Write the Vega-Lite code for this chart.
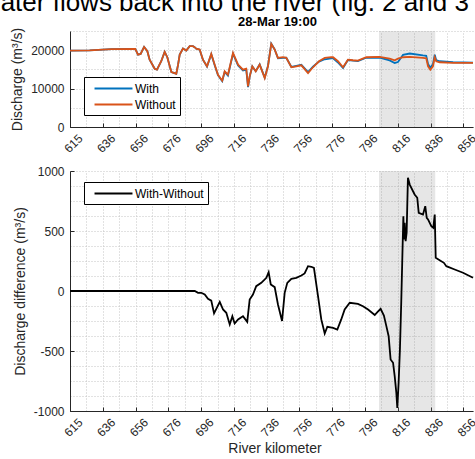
{
  "$schema": "https://vega.github.io/schema/vega-lite/v6.json",
  "padding": {"top": -10, "left": 0, "right": 0, "bottom": 0},
  "title": {"text": "ater flows back into the river (fig. 2 and 3", "fontSize": 26, "font": "Liberation Sans", "fontWeight": "normal", "anchor": "start", "frame": "bounds", "color": "#000000", "offset": 0, "dx": -10},
  "config": {
    "font": "Liberation Sans",
    "view": {"stroke": null},
    "axis": {
      "domainColor": "#262626", "domainWidth": 1,
      "ticks": false,
      "gridColor": "#c4c4c4", "gridDash": [1, 2], "gridWidth": 1,
      "labelFont": "Liberation Sans", "labelFontSize": 12, "labelColor": "#262626",
      "titleFont": "Liberation Sans", "titleFontSize": 14, "titleFontWeight": "normal", "titleColor": "#262626"
    },
    "legend": {
      "labelFont": "Liberation Sans", "labelFontSize": 12, "labelColor": "#000000",
      "strokeColor": "#000000", "fillColor": "#ffffff", "padding": 4,
      "symbolType": "M-3,0H3", "symbolSize": 160, "symbolStrokeWidth": 2, "symbolOffset": 18,
      "rowPadding": 2, "labelOffset": 14
    }
  },
  "datasets": {
    "shade": [{"start": 804.5, "end": 838.9}],
    "flows": [
      {"km": 615.5, "value": 19900, "series": "With"}, {"km": 627.5, "value": 19950, "series": "With"}, {"km": 640.8, "value": 20260, "series": "With"}, {"km": 655.4, "value": 20340, "series": "With"}, {"km": 657.1, "value": 18850, "series": "With"}, {"km": 658.7, "value": 19030, "series": "With"}, {"km": 660.8, "value": 20870, "series": "With"}, {"km": 662.8, "value": 19740, "series": "With"}, {"km": 664.2, "value": 17540, "series": "With"}, {"km": 667.3, "value": 15180, "series": "With"}, {"km": 668.7, "value": 14920, "series": "With"}, {"km": 671.3, "value": 17120, "series": "With"}, {"km": 673.4, "value": 19560, "series": "With"}, {"km": 675.0, "value": 18170, "series": "With"}, {"km": 677.5, "value": 14320, "series": "With"}, {"km": 680.5, "value": 13880, "series": "With"}, {"km": 681.6, "value": 16230, "series": "With"}, {"km": 682.6, "value": 18850, "series": "With"}, {"km": 684.6, "value": 20420, "series": "With"}, {"km": 686.6, "value": 19900, "series": "With"}, {"km": 688.7, "value": 21050, "series": "With"}, {"km": 690.7, "value": 21050, "series": "With"}, {"km": 691.7, "value": 20790, "series": "With"}, {"km": 692.7, "value": 20410, "series": "With"}, {"km": 694.8, "value": 20145, "series": "With"}, {"km": 696.8, "value": 17515, "series": "With"}, {"km": 699.3, "value": 15750, "series": "With"}, {"km": 701.9, "value": 18950, "series": "With"}, {"km": 704.0, "value": 16060, "series": "With"}, {"km": 706.0, "value": 13490, "series": "With"}, {"km": 708.6, "value": 11910, "series": "With"}, {"km": 710.1, "value": 14335, "series": "With"}, {"km": 712.1, "value": 13390, "series": "With"}, {"km": 715.2, "value": 19060, "series": "With"}, {"km": 718.3, "value": 15990, "series": "With"}, {"km": 721.3, "value": 14710, "series": "With"}, {"km": 723.3, "value": 14930, "series": "With"}, {"km": 724.4, "value": 10400, "series": "With"}, {"km": 725.4, "value": 13120, "series": "With"}, {"km": 727.0, "value": 15780, "series": "With"}, {"km": 729.1, "value": 14540, "series": "With"}, {"km": 731.5, "value": 16290, "series": "With"}, {"km": 734.6, "value": 12850, "series": "With"}, {"km": 736.6, "value": 15950, "series": "With"}, {"km": 738.6, "value": 21700, "series": "With"}, {"km": 740.7, "value": 20190, "series": "With"}, {"km": 742.7, "value": 17880, "series": "With"}, {"km": 745.8, "value": 18020, "series": "With"}, {"km": 747.8, "value": 18030, "series": "With"}, {"km": 750.9, "value": 15650, "series": "With"}, {"km": 753.9, "value": 15920, "series": "With"}, {"km": 757.0, "value": 16200, "series": "With"}, {"km": 761.1, "value": 14270, "series": "With"}, {"km": 764.1, "value": 15745, "series": "With"}, {"km": 767.8, "value": 17040, "series": "With"}, {"km": 771.3, "value": 17640, "series": "With"}, {"km": 775.3, "value": 17865, "series": "With"}, {"km": 776.4, "value": 17860, "series": "With"}, {"km": 779.4, "value": 16810, "series": "With"}, {"km": 782.5, "value": 15350, "series": "With"}, {"km": 785.5, "value": 17430, "series": "With"}, {"km": 788.6, "value": 17280, "series": "With"}, {"km": 791.6, "value": 17170, "series": "With"}, {"km": 796.7, "value": 18025, "series": "With"}, {"km": 804.9, "value": 18095, "series": "With"}, {"km": 811.0, "value": 17330, "series": "With"}, {"km": 814.1, "value": 16670, "series": "With"}, {"km": 816.1, "value": 16920, "series": "With"}, {"km": 819.2, "value": 18770, "series": "With"}, {"km": 823.3, "value": 19140, "series": "With"}, {"km": 831.4, "value": 18630, "series": "With"}, {"km": 833.4, "value": 18550, "series": "With"}, {"km": 834.5, "value": 16406, "series": "With"}, {"km": 835.9, "value": 15460, "series": "With"}, {"km": 837.5, "value": 16340, "series": "With"}, {"km": 838.6, "value": 18807, "series": "With"}, {"km": 839.5, "value": 17390, "series": "With"}, {"km": 841.6, "value": 17117, "series": "With"}, {"km": 849.8, "value": 16865, "series": "With"}, {"km": 862.0, "value": 16790, "series": "With"},
      {"km": 615.5, "value": 19900, "series": "Without"}, {"km": 627.5, "value": 19950, "series": "Without"}, {"km": 640.8, "value": 20260, "series": "Without"}, {"km": 655.4, "value": 20340, "series": "Without"}, {"km": 657.1, "value": 18850, "series": "Without"}, {"km": 658.7, "value": 19030, "series": "Without"}, {"km": 660.8, "value": 20870, "series": "Without"}, {"km": 662.8, "value": 19740, "series": "Without"}, {"km": 664.2, "value": 17540, "series": "Without"}, {"km": 667.3, "value": 15180, "series": "Without"}, {"km": 668.7, "value": 14920, "series": "Without"}, {"km": 671.3, "value": 17120, "series": "Without"}, {"km": 673.4, "value": 19560, "series": "Without"}, {"km": 675.0, "value": 18170, "series": "Without"}, {"km": 677.5, "value": 14320, "series": "Without"}, {"km": 680.5, "value": 13880, "series": "Without"}, {"km": 681.6, "value": 16230, "series": "Without"}, {"km": 682.6, "value": 18850, "series": "Without"}, {"km": 684.6, "value": 20420, "series": "Without"}, {"km": 686.6, "value": 19900, "series": "Without"}, {"km": 688.7, "value": 21050, "series": "Without"}, {"km": 690.7, "value": 21050, "series": "Without"}, {"km": 691.7, "value": 20790, "series": "Without"}, {"km": 692.7, "value": 20420, "series": "Without"}, {"km": 694.8, "value": 20160, "series": "Without"}, {"km": 696.8, "value": 17540, "series": "Without"}, {"km": 699.3, "value": 15810, "series": "Without"}, {"km": 701.9, "value": 19030, "series": "Without"}, {"km": 704.0, "value": 16230, "series": "Without"}, {"km": 706.0, "value": 13610, "series": "Without"}, {"km": 708.6, "value": 12040, "series": "Without"}, {"km": 710.1, "value": 14500, "series": "Without"}, {"km": 712.1, "value": 13610, "series": "Without"}, {"km": 715.2, "value": 19290, "series": "Without"}, {"km": 718.3, "value": 16230, "series": "Without"}, {"km": 721.3, "value": 14920, "series": "Without"}, {"km": 723.3, "value": 15180, "series": "Without"}, {"km": 724.4, "value": 10580, "series": "Without"}, {"km": 725.4, "value": 13190, "series": "Without"}, {"km": 727.0, "value": 15810, "series": "Without"}, {"km": 729.1, "value": 14500, "series": "Without"}, {"km": 731.5, "value": 16230, "series": "Without"}, {"km": 734.6, "value": 12750, "series": "Without"}, {"km": 736.6, "value": 15810, "series": "Without"}, {"km": 738.6, "value": 21650, "series": "Without"}, {"km": 740.7, "value": 20160, "series": "Without"}, {"km": 742.7, "value": 17990, "series": "Without"}, {"km": 745.8, "value": 18170, "series": "Without"}, {"km": 747.8, "value": 17990, "series": "Without"}, {"km": 750.9, "value": 15550, "series": "Without"}, {"km": 753.9, "value": 15810, "series": "Without"}, {"km": 757.0, "value": 16070, "series": "Without"}, {"km": 761.1, "value": 14060, "series": "Without"}, {"km": 764.1, "value": 15550, "series": "Without"}, {"km": 767.8, "value": 17120, "series": "Without"}, {"km": 771.3, "value": 17990, "series": "Without"}, {"km": 775.3, "value": 18170, "series": "Without"}, {"km": 776.4, "value": 18170, "series": "Without"}, {"km": 779.4, "value": 17120, "series": "Without"}, {"km": 782.5, "value": 15550, "series": "Without"}, {"km": 785.5, "value": 17540, "series": "Without"}, {"km": 788.6, "value": 17380, "series": "Without"}, {"km": 791.6, "value": 17280, "series": "Without"}, {"km": 796.7, "value": 18170, "series": "Without"}, {"km": 804.9, "value": 18250, "series": "Without"}, {"km": 811.0, "value": 17800, "series": "Without"}, {"km": 814.1, "value": 17380, "series": "Without"}, {"km": 816.1, "value": 17800, "series": "Without"}, {"km": 819.2, "value": 18170, "series": "Without"}, {"km": 823.3, "value": 18250, "series": "Without"}, {"km": 831.4, "value": 17990, "series": "Without"}, {"km": 833.4, "value": 17900, "series": "Without"}, {"km": 834.5, "value": 15810, "series": "Without"}, {"km": 835.9, "value": 14920, "series": "Without"}, {"km": 837.5, "value": 15810, "series": "Without"}, {"km": 838.6, "value": 18170, "series": "Without"}, {"km": 839.5, "value": 17120, "series": "Without"}, {"km": 841.6, "value": 16860, "series": "Without"}, {"km": 849.8, "value": 16680, "series": "Without"}, {"km": 862.0, "value": 16680, "series": "Without"}
    ],
    "diff": [
      {"km": 615.5, "value": 0}, {"km": 691.8, "value": 0}, {"km": 693.8, "value": -15}, {"km": 695.8, "value": -15}, {"km": 697.9, "value": -29}, {"km": 699.9, "value": -65}, {"km": 701.9, "value": -80}, {"km": 703.6, "value": -186}, {"km": 707.1, "value": -90}, {"km": 709.1, "value": -154}, {"km": 711.1, "value": -182}, {"km": 713.2, "value": -279}, {"km": 714.8, "value": -210}, {"km": 716.2, "value": -271}, {"km": 718.3, "value": -237}, {"km": 721.3, "value": -210}, {"km": 723.9, "value": -257}, {"km": 725.4, "value": -71}, {"km": 727.4, "value": -29}, {"km": 729.4, "value": 40}, {"km": 732.5, "value": 68}, {"km": 735.6, "value": 110}, {"km": 737.0, "value": 157}, {"km": 738.3, "value": 54}, {"km": 740.7, "value": 32}, {"km": 742.7, "value": -112}, {"km": 745.2, "value": -250}, {"km": 746.8, "value": -15}, {"km": 748.4, "value": 68}, {"km": 750.9, "value": 102}, {"km": 753.9, "value": 110}, {"km": 757.0, "value": 129}, {"km": 759.0, "value": 146}, {"km": 761.1, "value": 207}, {"km": 763.1, "value": 202}, {"km": 764.7, "value": 193}, {"km": 767.2, "value": -43}, {"km": 769.2, "value": -237}, {"km": 771.3, "value": -354}, {"km": 772.9, "value": -298}, {"km": 776.4, "value": -307}, {"km": 779.0, "value": -321}, {"km": 781.4, "value": -237}, {"km": 783.5, "value": -154}, {"km": 786.6, "value": -98}, {"km": 791.6, "value": -107}, {"km": 794.7, "value": -127}, {"km": 797.8, "value": -155}, {"km": 801.9, "value": -200}, {"km": 803.5, "value": -177}, {"km": 805.5, "value": -148}, {"km": 807.5, "value": -205}, {"km": 809.0, "value": -293}, {"km": 810.4, "value": -377}, {"km": 811.6, "value": -571}, {"km": 813.1, "value": -598}, {"km": 814.1, "value": -710}, {"km": 815.1, "value": -848}, {"km": 815.7, "value": -975}, {"km": 816.5, "value": -765}, {"km": 817.3, "value": -488}, {"km": 818.1, "value": -98}, {"km": 818.7, "value": 235}, {"km": 819.4, "value": 623}, {"km": 819.8, "value": 429}, {"km": 820.2, "value": 568}, {"km": 820.8, "value": 415}, {"km": 821.4, "value": 485}, {"km": 822.2, "value": 943}, {"km": 823.3, "value": 887}, {"km": 826.3, "value": 804}, {"km": 827.9, "value": 777}, {"km": 828.8, "value": 652}, {"km": 831.4, "value": 637}, {"km": 832.8, "value": 707}, {"km": 833.7, "value": 610}, {"km": 834.5, "value": 596}, {"km": 836.5, "value": 540}, {"km": 837.7, "value": 527}, {"km": 838.6, "value": 637}, {"km": 839.2, "value": 277}, {"km": 841.6, "value": 257}, {"km": 844.2, "value": 235}, {"km": 845.7, "value": 207}, {"km": 850.8, "value": 179}, {"km": 855.9, "value": 152}, {"km": 862.0, "value": 110}
    ]
  },
  "spacing": 10,
  "vconcat": [
    {
      "width": 403,
      "height": 96,
      "title": {"text": "28-Mar 19:00", "fontSize": 13, "fontWeight": "bold", "anchor": "middle", "offset": -4, "dx": 6, "color": "#000000"},
      "resolve": {"axis": {"x": "independent"}},
      "layer": [
        {
          "data": {"name": "shade"},
          "mark": {"type": "rect", "color": "#808080", "opacity": 0.2},
          "encoding": {
            "x": {"field": "start", "type": "quantitative", "scale": {"domain": [615.49, 862], "nice": false, "zero": false},
              "axis": {"orient": "bottom", "title": null, "labels": false, "domain": false, "ticks": false, "grid": true,
                "values": [615.49, 625.515, 635.54, 645.565, 655.59, 665.615, 675.64, 685.665, 695.69, 705.715, 715.74, 725.765, 735.79, 745.815, 755.84, 765.865, 775.89, 785.915, 795.94, 805.965, 815.99, 826.015, 836.04, 846.065, 856.09]}},
            "x2": {"field": "end"}
          }
        },
        {
          "data": {"name": "flows"},
          "mark": {"type": "line", "strokeWidth": 1.8},
          "encoding": {
            "x": {"field": "km", "type": "quantitative", "scale": {"domain": [615.49, 862], "nice": false, "zero": false},
              "axis": {"orient": "bottom", "title": null, "grid": false, "values": [615.49, 635.54, 655.59, 675.64, 695.69, 715.74, 735.79, 755.84, 775.89, 795.94, 815.99, 836.04, 856.09],
                "format": ".0f", "ticks": true, "tickSize": -4, "tickColor": "#262626",
                "labelAngle": -45, "labelAlign": "center", "labelBaseline": "middle", "labelOffset": 3, "labelPadding": 20, "labelOverlap": false, "labelFlush": false}},
            "y": {"field": "value", "type": "quantitative", "scale": {"domain": [0, 25000], "nice": false},
              "axis": {"title": "Discharge (m³/s)", "values": [0, 5000, 10000, 15000, 20000, 25000],
                "ticks": true, "tickSize": -4, "tickColor": "#262626",
                "tickOpacity": {"condition": {"test": "datum.value % 10000 == 0", "value": 1}, "value": 0},
                "labelExpr": "datum.value % 10000 == 0 ? toString(datum.value) : ''", "labelPadding": 10, "titlePadding": 6, "labelOverlap": false}},
            "color": {"field": "series", "type": "nominal", "scale": {"domain": ["With", "Without"], "range": ["#0072BD", "#D95319"]},
              "legend": {"title": null, "orient": "none", "legendX": 14, "legendY": 46}}
          }
        }
      ]
    },
    {
      "width": 403,
      "height": 240,
      "resolve": {"axis": {"x": "independent"}},
      "layer": [
        {
          "data": {"name": "shade"},
          "mark": {"type": "rect", "color": "#808080", "opacity": 0.2},
          "encoding": {
            "x": {"field": "start", "type": "quantitative", "scale": {"domain": [615.49, 862], "nice": false, "zero": false},
              "axis": {"orient": "bottom", "title": null, "labels": false, "domain": false, "ticks": false, "grid": true,
                "values": [615.49, 625.515, 635.54, 645.565, 655.59, 665.615, 675.64, 685.665, 695.69, 705.715, 715.74, 725.765, 735.79, 745.815, 755.84, 765.865, 775.89, 785.915, 795.94, 805.965, 815.99, 826.015, 836.04, 846.065, 856.09]}},
            "x2": {"field": "end"}
          }
        },
        {
          "data": {"name": "diff"},
          "transform": [{"calculate": "'With-Without'", "as": "series"}],
          "mark": {"type": "line", "strokeWidth": 1.8},
          "encoding": {
            "x": {"field": "km", "type": "quantitative", "scale": {"domain": [615.49, 862], "nice": false, "zero": false},
              "axis": {"orient": "bottom", "title": "River kilometer", "titleX": 204.5, "titlePadding": 3, "grid": false,
                "values": [615.49, 635.54, 655.59, 675.64, 695.69, 715.74, 735.79, 755.84, 775.89, 795.94, 815.99, 836.04, 856.09],
                "format": ".0f", "ticks": true, "tickSize": -4, "tickColor": "#262626",
                "labelAngle": -45, "labelAlign": "center", "labelBaseline": "middle", "labelOffset": 3, "labelPadding": 20, "labelOverlap": false, "labelFlush": false}},
            "y": {"field": "value", "type": "quantitative", "scale": {"domain": [-1000, 1000], "nice": false},
              "axis": {"title": "Discharge difference (m³/s)", "values": [-1000, -875, -750, -625, -500, -375, -250, -125, 0, 125, 250, 375, 500, 625, 750, 875, 1000],
                "ticks": true, "tickSize": -4, "tickColor": "#262626",
                "tickOpacity": {"condition": {"test": "datum.value % 500 == 0", "value": 1}, "value": 0},
                "labelExpr": "datum.value % 500 == 0 ? toString(datum.value) : ''", "labelPadding": 10, "titlePadding": 6, "labelOverlap": false}},
            "color": {"field": "series", "type": "nominal", "scale": {"domain": ["With-Without"], "range": ["#000000"]},
              "legend": {"title": null, "orient": "none", "legendX": 14, "legendY": 11}}
          }
        }
      ]
    }
  ],
  "resolve": {"scale": {"color": "independent"}}
}
